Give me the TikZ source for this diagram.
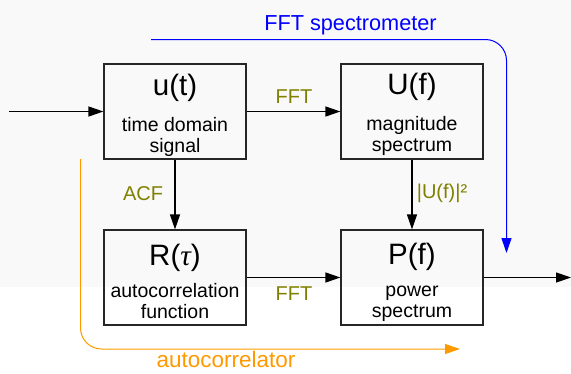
\documentclass[tikz,border=0pt]{standalone}
\usepackage{fontspec}
\setmainfont{Liberation Sans}
\newfontfamily\tauserif{Liberation Serif}
\usetikzlibrary{arrows.meta}
\definecolor{bgc}{RGB}{249,249,249}
\definecolor{olivelbl}{RGB}{128,128,0}
\definecolor{orangeline}{RGB}{255,153,0}
\definecolor{blueline}{RGB}{0,0,255}
\tikzset{
  box/.style={draw=black!85, line width=1.2pt, minimum width=142pt, minimum height=95pt, inner sep=0pt},
  ttl/.style={font=\fontsize{29.5}{32}\selectfont, inner sep=0pt, text=black},
  sub/.style={font=\fontsize{19.5}{21}\selectfont, inner sep=0pt, anchor=base, text=black},
  lbl/.style={font=\fontsize{20}{22}\selectfont, inner sep=0pt, anchor=base, text=olivelbl},
  arr/.style={line width=1.2pt, draw=black, -{Triangle[length=15pt,width=10pt]}},
  path/.style={line width=1pt, rounded corners=21pt, -{Triangle[length=15pt,width=10pt]}}
}
\begin{document}
\begin{tikzpicture}[x=1pt,y=-1pt]
\useasboundingbox (0,0) rectangle (571,373);
\fill[bgc] (0,0) rectangle (571,287);
% boxes
\node[box] (ut) at (175,111.5) {};
\node[box] (Uf) at (412,111.5) {};
\node[box] (Rt) at (175,277.5) {};
\node[box] (Pf) at (412,277.5) {};
% titles
\node[ttl] (utT) at (175,88) {u(t)};
\node[ttl] (UfT) at (412,87) {U(f)};
\node[ttl] (RtT) at (175,257.5) {R({\tauserif\itshape τ})};
\node[ttl] (PfT) at (412,257) {P(f)};
% subtexts
\node[sub] (utA) at (175,131) {time domain};
\node[sub] (utB) at (175,152) {signal};
\node[sub] (UfA) at (412,130) {magnitude};
\node[sub] (UfB) at (412,151.5) {spectrum};
\node[sub] (RtA) at (175,297) {autocorrelation};
\node[sub] (RtB) at (175,318) {function};
\node[sub] (PfA) at (412,296) {power};
\node[sub] (PfB) at (412,317) {spectrum};
% connectors
\coordinate (in) at (9,111.5);
\coordinate (out) at (571,277.5);
\draw[arr] (in) -- (ut.west);
\draw[arr] (ut.east) -- (Uf.west);
\draw[arr] (ut.south) -- (Rt.north);
\draw[arr] (Uf.south) -- (Pf.north);
\draw[arr] (Rt.east) -- (Pf.west);
\draw[arr] (Pf.east) -- (out);
% labels
\node[lbl] (l1) at (294,103) {FFT};
\node[lbl] (l2) at (143,200.5) {ACF};
\node[lbl] (l3) at (442,198) {|U(f)|²};
\node[lbl] (l4) at (294,300) {FFT};
% blue spectrometer path
\coordinate (bs) at (151,39.5);
\coordinate (bc) at (506.5,39.5);
\coordinate (be) at (506.5,253);
\draw[path, draw=blueline, fill=none] (bs) -- (bc) -- (be);
\node[font=\fontsize{21.7}{24}\selectfont, text=blueline, inner sep=0pt, anchor=base] (bt) at (350.5,30) {FFT spectrometer};
% orange autocorrelator path
\coordinate (os) at (80.5,159);
\coordinate (oc) at (80.5,349);
\coordinate (oe) at (460,349);
\draw[path, draw=orangeline] (os) -- (oc) -- (oe);
\node[font=\fontsize{22.5}{25}\selectfont, text=orangeline, inner sep=0pt, anchor=base] (ot) at (226,367.5) {autocorrelator};
\end{tikzpicture}
\end{document}
